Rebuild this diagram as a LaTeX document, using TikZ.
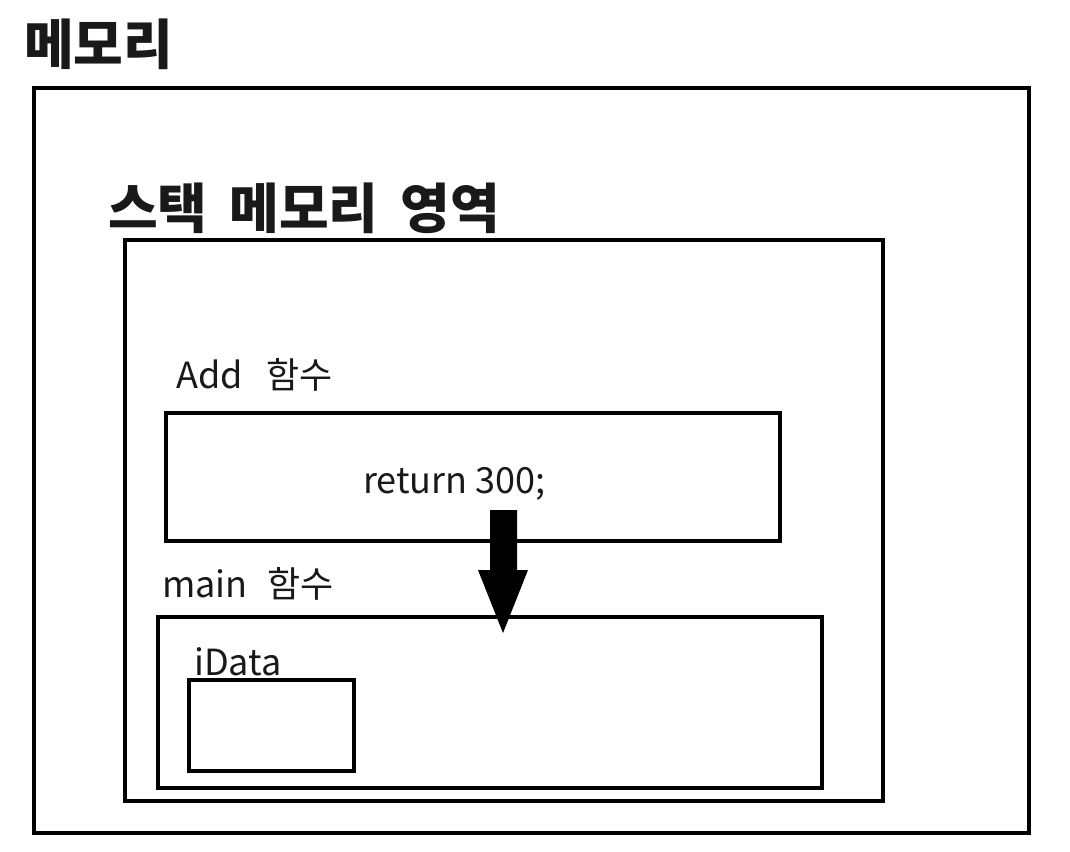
\documentclass[tikz,border=0pt]{standalone}
\usepackage{fontspec}
\newfontfamily\kr{Noto Sans CJK KR}
\begin{document}
\begin{tikzpicture}[x=1pt,y=-1pt,
  box/.style={draw=black,line width=4pt},
  gap/.style={execute at begin node={\spaceskip=#1\relax}},
  title/.style={font=\kr\bfseries\fontsize{54}{60}\selectfont,inner sep=0pt,anchor=base west,text=black!90},
  label/.style={font=\kr\fontsize{36}{40}\selectfont,inner sep=0pt,anchor=base west,text=black!90}]
\useasboundingbox (0,0) rectangle (1070,851);
\fill[white] (0,0) rectangle (1070,851);
% boxes
\draw[box] (34,88) rectangle (1029,833);
\draw[box] (125,240) rectangle (883,801);
\draw[box] (166,413) rectangle (780,541);
\draw[box] (158,617) rectangle (822,788);
\draw[box] (189,680) rectangle (354,771);
% texts
\node[title] (mem) at (24,64) {메모리};
\node[title,gap=22pt] (stack) at (108,228) {스택 메모리 영역};
\node[label,gap=24pt] (add) at (176,388) {Add 함수};
\node[label] (ret) at (363,493) {return 300;};
\node[label,gap=20pt] (main) at (162,597) {main 함수};
\node[label] (idata) at (194,675) {iData};
% arrow
\coordinate (a1) at (490,510);
\coordinate (a2) at (517,510);
\coordinate (a3) at (517,570);
\coordinate (a4) at (528,570);
\coordinate (tip) at (503,633);
\coordinate (a5) at (478,570);
\coordinate (a6) at (490,570);
\fill[black] (a1) -- (a2) -- (a3) -- (a4) -- (tip) -- (a5) -- (a6) -- cycle;
\end{tikzpicture}
\end{document}
